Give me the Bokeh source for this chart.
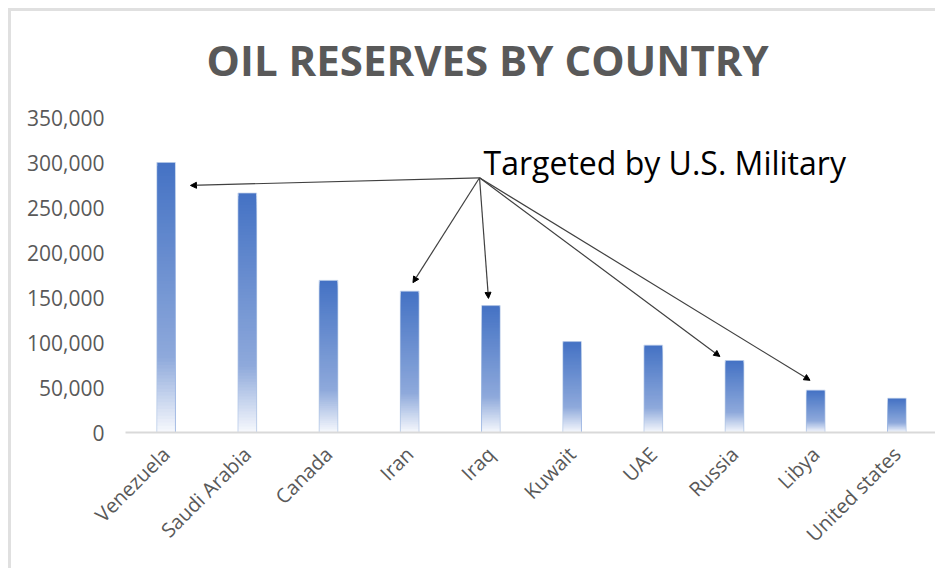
from bokeh.plotting import figure
from bokeh.models import (Range1d, FixedTicker, NumeralTickFormatter,
                          Label, Arrow, NormalHead)
from bokeh.embed import file_html
from bokeh.resources import INLINE
import math

# ---- data ----
countries = ["Venezuela", "Saudi Arabia", "Canada", "Iran", "Iraq",
             "Kuwait", "UAE", "Russia", "Libya", "United states"]
reserves = [300000, 266000, 169000, 157000, 141000, 101000, 97000, 80000, 47000, 38000]
y_ticks = [0, 50000, 100000, 150000, 200000, 250000, 300000, 350000]
title_text = "OIL RESERVES BY COUNTRY"
note_text = "Targeted by U.S. Military"
targeted = ["Venezuela", "Iran", "Iraq", "Russia", "Libya"]

# ---- styling ----
FONT = "Open Sans"
GREY = "#595959"
BAR_W = 0.22
N_SEG = 80
Y_TOP = 350000 * 402 / 315   # frame extends above the axis top to hold the title

def lerp(c1, c2, t):
    a = [int(c1[i:i + 2], 16) for i in (1, 3, 5)]
    b = [int(c2[i:i + 2], 16) for i in (1, 3, 5)]
    return "#%02x%02x%02x" % tuple(round(a[k] + (b[k] - a[k]) * t) for k in range(3))

def grad_color(t):  # t = 0 at bar top, 1 at bar bottom
    stops = [(0.0, "#4472C4"), (0.72, "#8EA9DB"), (1.0, "#F7F9FD")]
    for (t0, c0), (t1, c1) in zip(stops, stops[1:]):
        if t <= t1:
            return lerp(c0, c1, (t - t0) / (t1 - t0))
    return stops[-1][1]

p = figure(width=927, height=560, output_backend="svg", toolbar_location=None,
           x_range=Range1d(0, len(countries)), y_range=Range1d(0, Y_TOP),
           min_border_left=114, min_border_right=1, min_border_top=19, min_border_bottom=139)
p.styles = {"margin-left": "8px", "margin-top": "8px",
            "border-left": "3px solid #e0e0e0", "border-top": "3px solid #e0e0e0"}
p.outline_line_color = None
p.xgrid.grid_line_color = None
p.ygrid.grid_line_color = None
p.background_fill_color = "white"
p.border_fill_color = "white"

# title (inside the frame, above the 350,000 level)
p.add_layout(Label(x=4.46, y=414400, text=title_text, text_align="center",
                   text_baseline="alphabetic", text_font=FONT, text_font_size="42px",
                   text_font_style="bold", text_color=GREY))

# gradient bars: overlapping segments drawn tallest first
xs, tops, cols = [], [], []
for i, v in enumerate(reserves):
    for k in reversed(range(N_SEG)):
        f0, f1 = k / N_SEG, (k + 1) / N_SEG
        xs.append(i + 0.5)
        tops.append(v * f1)
        cols.append(grad_color(1 - (f0 + f1) / 2))
p.vbar(x=xs, width=BAR_W, bottom=0, top=tops, fill_color=cols, line_color=None)
# light outline around each bar
p.vbar(x=[i + 0.5 for i in range(len(countries))], width=BAR_W + 0.01, bottom=0,
       top=reserves, fill_color=None, line_color="#B4C7E7", line_width=1, line_alpha=0.7)

# axes
xa = p.xaxis[0]
xa.ticker = FixedTicker(ticks=[i + 0.5 for i in range(len(countries))])
xa.major_label_overrides = {i + 0.5: c for i, c in enumerate(countries)}
xa.major_label_orientation = math.pi / 4
xa.major_tick_line_color = None
xa.minor_tick_line_color = None
xa.axis_line_color = "#D9D9D9"
xa.axis_line_width = 2
xa.major_label_text_font = FONT
xa.major_label_text_font_size = "20px"
xa.major_label_text_color = GREY
xa.major_label_standoff = 12

ya = p.yaxis[0]
ya.ticker = FixedTicker(ticks=y_ticks)
ya.formatter = NumeralTickFormatter(format="0,0")
ya.axis_line_color = None
ya.major_tick_line_color = None
ya.minor_tick_line_color = None
ya.major_label_text_font = FONT
ya.major_label_text_font_size = "21px"
ya.major_label_text_color = GREY
ya.major_label_standoff = 15

# annotation
src_x, src_y = 4.36, 283000
p.add_layout(Label(x=4.41, y=300000, text=note_text, text_align="left",
                   text_baseline="alphabetic", text_font=FONT, text_font_size="32px",
                   text_color="black"))
ends = {"Venezuela": (0.80, 274500), "Iran": (3.54, 166500), "Iraq": (4.47, 149000),
        "Russia": (7.32, 84500), "Libya": (8.43, 58000)}
for c in targeted:
    ex, ey = ends[c]
    p.add_layout(Arrow(x_start=src_x, y_start=src_y, x_end=ex, y_end=ey,
                       line_color="#404040", line_width=1.2,
                       end=NormalHead(size=6, fill_color="black", line_color="black")))

open("out.html", "w").write(file_html(p, INLINE))
